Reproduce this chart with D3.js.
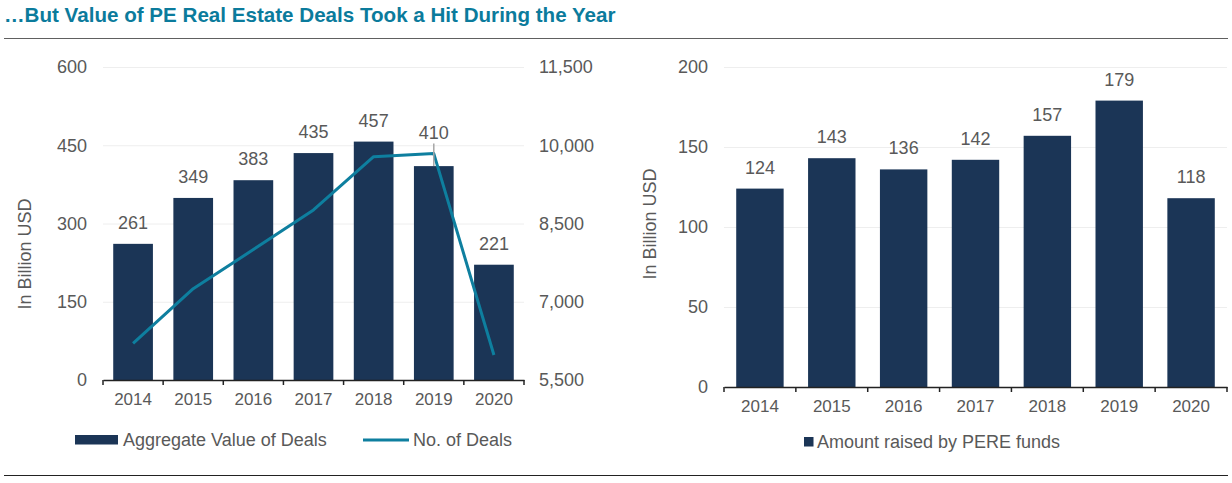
<!DOCTYPE html>
<html><head><meta charset="utf-8">
<script src="https://cdn.jsdelivr.net/npm/d3@7"></script>
<style>
body{margin:0;background:#fff;}
text{font-family:"Liberation Sans",Arial,sans-serif;}
</style></head>
<body><svg id="c" width="1232" height="483"></svg>
<script>
const years = ["2014","2015","2016","2017","2018","2019","2020"];
const dealValue = [261,349,383,435,457,410,221];
const dealCount = [6200,7250,8000,8760,9780,9840,5980];
const fundsRaised = [124,143,136,142,157,179,118];
const leftTicks = [0,150,300,450,600];
const rightTicks = [5500,7000,8500,10000,11500];
const fundTicks = [0,50,100,150,200];

const BAR = "#1b3556", LINE = "#0e7f9f", TXT = "#595959", TITLE = "#0b7b9c";
const svg = d3.select("#c");

svg.append("text").attr("x",4).attr("y",22).attr("font-size",20.6).attr("font-weight","bold")
  .attr("fill",TITLE).text("…But Value of PE Real Estate Deals Took a Hit During the Year");
svg.append("line").attr("x1",4).attr("x2",1228).attr("y1",38.5).attr("y2",38.5).attr("stroke","#606060").attr("stroke-width",1.2);
svg.append("line").attr("x1",4).attr("x2",1228).attr("y1",475.5).attr("y2",475.5).attr("stroke","#222").attr("stroke-width",1.2);

function barChart(cfg){
  const g = svg.append("g");
  const x = d3.scaleBand().domain(years).range([cfg.x0,cfg.x1]).paddingInner(0.34).paddingOuter(0.17);
  const y = d3.scaleLinear().domain([0,d3.max(cfg.ticks)]).range([cfg.yb,cfg.yt]);
  g.selectAll(".grid").data(cfg.ticks.filter(d=>d>0)).join("line")
    .attr("x1",cfg.x0).attr("x2",cfg.x1).attr("y1",d=>y(d)+0.5).attr("y2",d=>y(d)+0.5)
    .attr("stroke","#eeeeee").attr("stroke-width",1);
  const ya = d3.axisLeft(y).tickValues(cfg.ticks).tickSize(0).tickPadding(0);
  const yg = g.append("g").attr("transform",`translate(${cfg.tickX},0)`).call(ya);
  yg.select(".domain").remove();
  yg.selectAll("text").attr("font-size",18).attr("fill",TXT).attr("font-family","Liberation Sans, Arial");
  g.selectAll(".bar").data(cfg.values).join("rect")
    .attr("x",(d,i)=>x(years[i])).attr("width",x.bandwidth())
    .attr("y",d=>y(d)).attr("height",d=>cfg.yb-y(d)).attr("fill",BAR);
  const xa = d3.axisBottom(x).tickSize(0).tickPadding(13);
  const xg = g.append("g").attr("transform",`translate(0,${cfg.yb})`).call(xa);
  xg.select(".domain").attr("stroke","#222").attr("stroke-width",1.5);
  xg.selectAll("text").attr("font-size",17).attr("fill",TXT).attr("font-family","Liberation Sans, Arial");
  const bounds = [cfg.x0].concat(years.map(yv=>x(yv)+x.bandwidth()+x.step()*x.paddingInner()/2));
  g.selectAll(".tk").data(bounds).join("line")
    .attr("x1",d=>d).attr("x2",d=>d).attr("y1",cfg.yb).attr("y2",cfg.yb+5).attr("stroke","#222").attr("stroke-width",1.5);
  g.append("text").attr("transform",`translate(${cfg.titleX},${cfg.titleY}) rotate(-90)`)
    .attr("text-anchor","middle").attr("dominant-baseline","central").attr("font-size",18).attr("fill",TXT).text("In Billion USD");
  return {g,x,y};
}

// LEFT chart
const L = barChart({x0:103,x1:524,yb:380,yt:67,ticks:leftTicks,values:dealValue,tickX:87,titleX:25,titleY:254});
const y2 = d3.scaleLinear().domain([5500,11500]).range([380,67]);
const cx = i => L.x(years[i]) + L.x.bandwidth()/2;
const ya2 = d3.axisRight(y2).tickValues(rightTicks).tickSize(0).tickPadding(0).tickFormat(d3.format(","));
const yg2 = L.g.append("g").attr("transform","translate(539,0)").call(ya2);
yg2.select(".domain").remove();
yg2.selectAll("text").attr("font-size",18).attr("fill",TXT).attr("font-family","Liberation Sans, Arial");
L.g.append("path").datum(dealCount)
  .attr("d",d3.line().x((d,i)=>cx(i)).y(d=>y2(d)))
  .attr("fill","none").attr("stroke",LINE).attr("stroke-width",3).attr("stroke-linejoin","round");
dealValue.forEach((v,i)=>{
  const barTop = L.y(v), lineY = y2(dealCount[i]);
  const lifted = lineY < barTop && lineY > barTop - 30;
  const ly = Math.min(barTop, lifted ? lineY : barTop) - 21;
  if(lifted){
    L.g.append("line").attr("x1",cx(i)).attr("x2",cx(i)).attr("y1",ly+11).attr("y2",barTop)
      .attr("stroke","#a6a6a6").attr("stroke-width",1.5);
  }
  L.g.append("text").attr("x",cx(i)).attr("y",ly).attr("text-anchor","middle").attr("dominant-baseline","central")
    .attr("font-size",18).attr("fill",TXT).text(v);
});
const lg = svg.append("g");
lg.append("rect").attr("x",75).attr("y",435).attr("width",43).attr("height",9.5).attr("fill",BAR);
lg.append("text").attr("x",123).attr("y",440).attr("dominant-baseline","central").attr("font-size",18).attr("fill",TXT).text("Aggregate Value of Deals");
lg.append("line").attr("x1",363).attr("x2",409).attr("y1",440).attr("y2",440).attr("stroke",LINE).attr("stroke-width",3);
lg.append("text").attr("x",413).attr("y",440).attr("dominant-baseline","central").attr("font-size",18).attr("fill",TXT).text("No. of Deals");

// RIGHT chart
const R = barChart({x0:724,x1:1227,yb:387,yt:67,ticks:fundTicks,values:fundsRaised,tickX:708,titleX:650,titleY:224});
fundsRaised.forEach((v,i)=>{
  R.g.append("text").attr("x",R.x(years[i])+R.x.bandwidth()/2).attr("y",R.y(v)-21)
    .attr("text-anchor","middle").attr("dominant-baseline","central").attr("font-size",18).attr("fill",TXT).text(v);
});
const rg = svg.append("g");
rg.append("rect").attr("x",804).attr("y",437).attr("width",9.5).attr("height",9.5).attr("fill",BAR);
rg.append("text").attr("x",817).attr("y",442).attr("dominant-baseline","central").attr("font-size",18).attr("fill",TXT).text("Amount raised by PERE funds");
</script></body></html>
